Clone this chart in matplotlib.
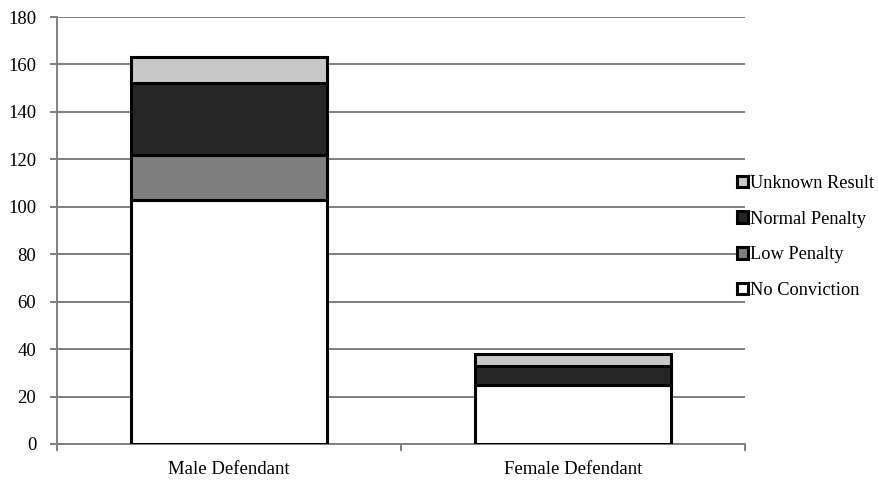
import matplotlib
matplotlib.use('Agg')
from matplotlib import pyplot as plt
import numpy as np

plt.rcParams['font.family'] = ['Liberation Serif', 'DejaVu Serif']

categories = ['Male Defendant', 'Female Defendant']
series = ['No Conviction', 'Low Penalty', 'Normal Penalty', 'Unknown Result']
no_conviction = [103, 25]
low_penalty = [19, 0]
normal_penalty = [30, 8]
unknown_result = [11, 5]

colors = ['#ffffff', '#7f7f7f', '#262626', '#c8c8c8']

fig = plt.figure(figsize=(8.79, 4.87), dpi=100)
ax = fig.add_axes([57 / 879, 43 / 487, 688 / 879, 427 / 487])

x = np.arange(len(categories))
bottom = np.zeros(len(categories))
handles = []
for name, vals, c in zip(series, [no_conviction, low_penalty, normal_penalty, unknown_result], colors):
    vals = np.array(vals, dtype=float)
    b = ax.bar(x, vals, 0.57, bottom=bottom, color=c, edgecolor='black', linewidth=2.2,
               label=name, zorder=3)
    handles.append(b)
    bottom += vals

ax.set_xlim(-0.5, 1.5)
ax.set_ylim(0, 180)
ax.set_yticks(range(0, 181, 20))
ax.yaxis.grid(True, color='#7f7f7f', linewidth=1.4, zorder=0)
ax.set_xticks([0, 1])
ax.set_xticklabels(categories)
ax.set_xticks([-0.5, 0.5, 1.5], minor=True)
ax.tick_params(axis='x', which='major', length=0, pad=12, labelsize=13.5)
ax.tick_params(axis='x', which='minor', length=5, color='#7f7f7f', width=1.4)
ax.tick_params(axis='y', length=5, color='#7f7f7f', width=1.4, labelsize=13.5, pad=10)

for s in ['top', 'right']:
    ax.spines[s].set_visible(False)
for s in ['left', 'bottom']:
    ax.spines[s].set_color('#7f7f7f')
    ax.spines[s].set_linewidth(1.4)

leg = ax.legend(handles[::-1], series[::-1], loc='center left', bbox_to_anchor=(0.978, 0.485),
                frameon=False, fontsize=13.2, handlelength=0.6, handleheight=0.6,
                handletextpad=0.1, labelspacing=1.02, borderaxespad=0)

plt.savefig('out.png', dpi=100)
